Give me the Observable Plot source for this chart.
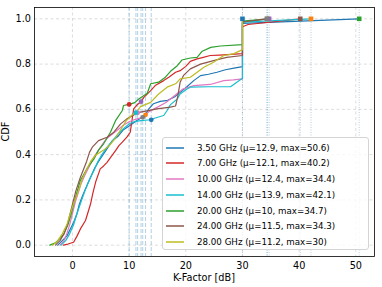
<!DOCTYPE html>
<html><head><meta charset="utf-8">
<script src="https://cdn.jsdelivr.net/npm/d3@7"></script>
<script src="https://cdn.jsdelivr.net/npm/@observablehq/plot@0.6"></script>
<style>
body{margin:0;background:#fff;font-family:"DejaVu Sans",sans-serif;}
#wrap{position:relative;width:382px;height:287px;}
#legend{position:absolute;left:162px;top:137px;width:205px;height:111px;border:1px solid #d4d4d4;border-radius:3px;background:rgba(255,255,255,0.8);font-size:8.7px;color:#000;}
.row{position:absolute;left:0;height:14px;display:flex;align-items:center;white-space:nowrap;}
.sw{display:block;margin-left:3px;margin-right:13px;}
</style></head><body><div id="wrap"></div>
<script>
const labels = ["3.50 GHz (μ=12.9, max=50.6)","7.00 GHz (μ=12.1, max=40.2)","10.00 GHz (μ=12.4, max=34.4)","14.00 GHz (μ=13.9, max=42.1)","20.00 GHz (μ=10, max=34.7)","24.00 GHz (μ=11.5, max=34.3)","28.00 GHz (μ=11.2, max=30)"];
const means = [12.9, 12.1, 12.4, 13.9, 10, 11.5, 11.2];
const maxes = [50.6, 40.2, 34.4, 42.1, 34.7, 34.3, 30];
const lineColors = ["#1f77b4","#d62728","#e377c2","#17becf","#2ca02c","#8c564b","#bcbd22"];
const meanMarkerColors = ["#ff7f0e","#9467bd","#7f7f7f","#1f77b4","#d62728","#e377c2","#17becf"];
const maxMarkerColors = ["#2ca02c","#8c564b","#bcbd22","#ff7f0e","#9467bd","#7f7f7f","#1f77b4"];
const xTicks = [0, 10, 20, 30, 40, 50];
const yTicks = [0, 0.2, 0.4, 0.6, 0.8, 1.0];

// CDF curves (x in dB, y = CDF)
const s35x = [-2.6,-1.8,-1.0,-0.4,0.2,0.8,1.2,1.8,2.5,3.2,3.9,4.6,5.4,6.2,7.0,8.0,9.0,10.2,11.3,12.3,12.9,13.4,14.3,15.5,16.8,18.0,19.0,20.2,21.4,22.6,24.0,25.5,27.0,28.5,30.0,30.0,50.6];
const s35y = [0,0.02,0.04,0.07,0.1,0.14,0.18,0.22,0.26,0.3,0.34,0.37,0.4,0.43,0.46,0.48,0.51,0.53,0.55,0.565,0.576,0.6,0.625,0.635,0.64,0.655,0.675,0.7,0.727,0.749,0.755,0.764,0.775,0.782,0.789,0.98,1.0];
const s70x = [-1.6,-0.8,0.2,0.8,1.4,2.3,2.8,3.2,3.6,4.1,4.9,5.5,6.1,6.8,7.6,8.2,8.8,9.6,10.2,10.8,11.4,12.1,12.6,13.8,14.6,16.1,17.0,18.2,19.0,20.0,20.8,22.0,23.1,24.3,26,28,30,30,31,40.2];
const s70y = [0,0.005,0.013,0.04,0.072,0.109,0.15,0.183,0.23,0.28,0.337,0.35,0.366,0.39,0.418,0.44,0.455,0.477,0.499,0.602,0.62,0.634,0.653,0.683,0.705,0.727,0.742,0.764,0.771,0.79,0.812,0.823,0.83,0.838,0.84,0.843,0.846,0.965,0.975,1.0];
const s100x = [-2.2,-1.5,-1.0,-0.5,0,0.5,1.0,1.5,2.2,3.0,3.8,4.6,5.4,6.0,7.0,8.0,9.0,10.0,11.0,12.4,13.5,15.0,16.5,18.0,19.5,21.4,24.3,26.7,28.4,30,30,34.4];
const s100y = [0,0.02,0.05,0.09,0.14,0.19,0.23,0.27,0.31,0.35,0.39,0.42,0.45,0.47,0.49,0.51,0.53,0.545,0.555,0.565,0.59,0.61,0.63,0.66,0.69,0.705,0.71,0.727,0.73,0.735,0.985,1.0];
const s140x = [-2.0,-1.2,-0.5,0.2,0.8,1.5,2.2,3.0,3.8,4.5,5.2,6.0,7.0,8.0,9.0,10.0,10.8,12.0,13.9,14.6,16.1,16.7,17.3,18.5,19.0,20.2,20.8,24.0,27.9,29,30,30,42.1];
const s140y = [0,0.02,0.05,0.09,0.14,0.19,0.24,0.29,0.33,0.37,0.4,0.43,0.46,0.49,0.515,0.535,0.545,0.55,0.554,0.562,0.573,0.595,0.621,0.646,0.668,0.69,0.698,0.7,0.7,0.72,0.737,0.985,1.0];
const s200x = [-4.0,-3.0,-2.2,-1.5,-0.8,-0.2,0.4,1.4,2.6,3.8,4.6,5.5,6.7,7.6,8.8,9.0,10.0,11.0,11.7,13.2,13.8,15.2,16.4,17.3,18.5,19.3,20.8,22.0,22.9,24.4,26.1,30,30,34.7];
const s200y = [0,0.01,0.03,0.05,0.09,0.14,0.2,0.286,0.34,0.381,0.42,0.448,0.499,0.55,0.595,0.617,0.622,0.63,0.646,0.671,0.713,0.72,0.742,0.768,0.793,0.818,0.827,0.83,0.857,0.874,0.88,0.886,0.99,1.0];
const s240x = [-3.0,-2.2,-1.5,-0.9,-0.4,0.1,0.6,1.4,2.5,3.0,3.5,4.6,6.1,7.3,8.5,9.6,11.5,12.0,14.9,17.3,18.2,18.6,19.0,19.6,20.8,22.6,24.9,27.2,30,30,34.3];
const s240y = [0,0.02,0.05,0.09,0.14,0.19,0.24,0.3,0.37,0.41,0.433,0.462,0.477,0.499,0.536,0.558,0.585,0.588,0.602,0.61,0.615,0.66,0.72,0.75,0.779,0.8,0.815,0.83,0.838,0.986,1.0];
const s280x = [-3.5,-2.6,-1.8,-1.0,-0.5,0.0,0.6,1.2,1.7,2.4,3.2,4.0,5.5,6.5,7.5,8.5,9.5,10.5,11.2,12.0,13.8,15.2,16.7,18.2,19.0,20.8,22.0,23.2,24.9,26.7,28.4,30,30];
const s280y = [0,0.02,0.05,0.09,0.13,0.17,0.21,0.25,0.29,0.33,0.37,0.396,0.42,0.44,0.47,0.51,0.55,0.575,0.585,0.612,0.631,0.668,0.698,0.713,0.735,0.742,0.764,0.786,0.808,0.838,0.845,0.864,1.0];

const seriesX = [s35x, s70x, s100x, s140x, s200x, s240x, s280x];
const seriesY = [s35y, s70y, s100y, s140y, s200y, s240y, s280y];

const series = seriesX.map((xs, i) => xs.map((x, j) => ({x, y: seriesY[i][j]})));
function cdfAt(pts, v) {
  for (let j = 1; j < pts.length; j++) {
    const a = pts[j-1], b = pts[j];
    if (v >= a.x && v <= b.x) return b.x === a.x ? a.y : a.y + (b.y - a.y) * (v - a.x) / (b.x - a.x);
  }
  return pts[pts.length-1].y;
}
const meanPts = means.map((m, i) => ({x: m, y: cdfAt(series[i], m), c: meanMarkerColors[i]}));
const maxPts = maxes.map((m, i) => ({x: m, y: 1.0, c: maxMarkerColors[i]}));

const marks = [
  Plot.gridX(xTicks, {stroke: "#b0b0b0", strokeOpacity: 0.55, strokeDasharray: "3,2.5", strokeWidth: 0.8}),
  Plot.gridY(yTicks, {stroke: "#b0b0b0", strokeOpacity: 0.55, strokeDasharray: "3,2.5", strokeWidth: 0.8}),
  Plot.ruleX(means, {stroke: "#1f77b4", strokeOpacity: 0.35, strokeDasharray: "4,2", strokeWidth: 1}),
  Plot.ruleX(maxes, {stroke: "#1f77b4", strokeOpacity: 0.35, strokeDasharray: "1,1.5", strokeWidth: 1}),
];
series.forEach((pts, i) => {
  marks.push(Plot.line(pts, {x: "x", y: "y", stroke: lineColors[i], strokeWidth: 1.2}));
});
marks.push(Plot.dot(meanPts, {x: "x", y: "y", fill: "c", r: 2.4, symbol: "circle"}));
marks.push(Plot.dot(maxPts, {x: "x", y: "y", fill: "c", r: 2.6, symbol: "square"}));
marks.push(Plot.frame({stroke: "#000", strokeWidth: 0.8}));
marks.push(Plot.axisX(xTicks, {tickSize: 0, tickPadding: 5.5, label: null, tickFormat: d => String(d)}));
marks.push(Plot.axisY(yTicks, {tickSize: 0, tickPadding: 3.5, label: null, tickFormat: d => d.toFixed(1)}));

const chart = Plot.plot({
  width: 382, height: 287,
  marginLeft: 34, marginRight: 8, marginTop: 7, marginBottom: 31,
  style: {fontFamily: "DejaVu Sans", fontSize: "9.7px", background: "white", color: "black"},
  x: {domain: [-6.7, 53.3]},
  y: {domain: [-0.05, 1.05]},
  marks
});
const wrap = document.getElementById("wrap");
wrap.appendChild(chart);
const svg = d3.select(chart);
svg.append("text").attr("x", 204).attr("y", 281).attr("text-anchor", "middle")
  .attr("font-size", "9.7px").attr("font-family", "DejaVu Sans").attr("fill", "black").text("K-Factor [dB]");
svg.append("text").attr("transform", "translate(9,131.5) rotate(-90)").attr("text-anchor", "middle")
  .attr("font-size", "9.7px").attr("font-family", "DejaVu Sans").attr("fill", "black").text("CDF");

const legend = document.createElement("div");
legend.id = "legend";
labels.forEach((t, i) => {
  const row = document.createElement("div");
  row.className = "row";
  row.style.top = (2.7 + i * 15.7) + "px";
  const sw = d3.create("svg").attr("class", "sw").attr("width", 18).attr("height", 4);
  sw.append("line").attr("x1", 0).attr("x2", 18).attr("y1", 2).attr("y2", 2)
    .attr("stroke", lineColors[i]).attr("stroke-width", 1.5);
  const tx = document.createElement("span");
  tx.textContent = t;
  row.appendChild(sw.node()); row.appendChild(tx);
  legend.appendChild(row);
});
wrap.appendChild(legend);
</script></body></html>
